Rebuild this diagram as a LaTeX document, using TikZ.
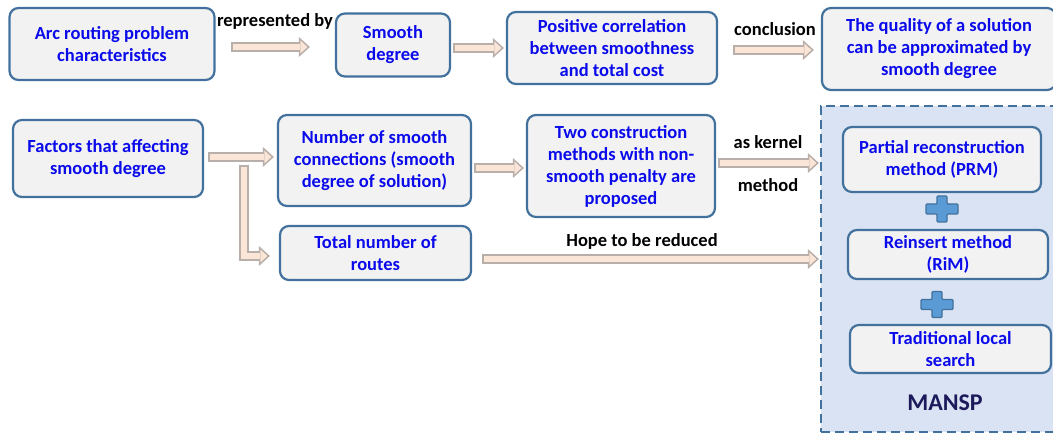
\documentclass[tikz,border=0pt]{standalone}
\usepackage{fontspec}
\setmainfont{Carlito}
\usetikzlibrary{arrows.meta}

\definecolor{boxline}{HTML}{41719C}
\definecolor{boxfill}{HTML}{F2F2F2}
\definecolor{txtblue}{RGB}{10,10,235}
\definecolor{grpfill}{HTML}{DAE3F3}
\definecolor{arrline}{RGB}{184,174,170}
\definecolor{arrfill}{HTML}{FBE5D6}
\definecolor{plusfill}{HTML}{5B9BD5}
\definecolor{mansp}{RGB}{28,26,90}

\begin{document}
\begin{tikzpicture}[x=1pt,y=-1pt,
  box/.style={draw=boxline, fill=boxfill, line width=2.2pt, rounded corners=9pt,
    text=txtblue, align=center, inner sep=0pt,
    font=\fontsize{18.5}{22}\selectfont\bfseries},
  lbl/.style={text=black, inner sep=0pt, font=\fontsize{18.5}{22}\selectfont\bfseries},
  blockarr/.style={draw=arrline, line width=9.5pt,
    -{Triangle[length=11pt,width=20pt,line width=0pt]},
    postaction={draw=arrfill, line width=5.5pt,
      -{Triangle[length=7pt,width=13pt,line width=0pt]},
      shorten >=2.5pt, shorten <=2pt}},
  plus/.style={fill=plusfill, draw=boxline, line width=1.2pt, rounded corners=1pt}]
\useasboundingbox (0,0) rectangle (1053,435);
\clip (0,0) rectangle (1053,435);

% group frame
\node [draw=boxline, fill=grpfill, line width=2.2pt, dash pattern=on 9pt off 5pt,
  minimum width=236, minimum height=326, inner sep=0pt] (grp) at (939,269) {};
\node [font=\fontsize{24}{28}\selectfont\bfseries, text=mansp] (name) at (945,403) {MANSP};

% top row
\node [box, minimum width=205, minimum height=72] (arc) at (112,44)
  {Arc routing problem\\characteristics};
\node [box, minimum width=114, minimum height=63] (smooth) at (393,45)
  {Smooth\\degree};
\node [box, minimum width=210, minimum height=72] (corr) at (612,48)
  {Positive correlation\\between smoothness\\and total cost};
\node [box, minimum width=234, minimum height=82] (quality) at (939,49)
  {The quality of a solution\\can be approximated by\\smooth degree};

% second part
\node [box, minimum width=190, minimum height=77] (factor) at (108,158.5)
  {Factors that affecting\\smooth degree};
\node [box, minimum width=193, minimum height=91] (conn) at (374.5,160.5)
  {Number of smooth\\connections (smooth\\degree of solution)};
\node [box, minimum width=191, minimum height=54] (routes) at (375.5,253)
  {Total number of\\routes};
\node [box, minimum width=188, minimum height=102] (constr) at (621,166)
  {Two construction\\methods with non-\\smooth penalty are\\proposed};

% inside MANSP
\node [box, minimum width=198, minimum height=65] (prm) at (942,159.5)
  {Partial reconstruction\\method (PRM)};
\node [box, minimum width=200, minimum height=49] (rim) at (948,254.5)
  {Reinsert method\\(RiM)};
\node [box, minimum width=201, minimum height=48] (tls) at (950.5,349)
  {Traditional local\\search};

\foreach \cx/\cy in {942/209, 937/304.5}
  \draw [plus, shift={(\cx,\cy)}] (-5,-13) -- (5,-13) -- (5,-5) -- (16,-5) -- (16,5)
    -- (5,5) -- (5,13) -- (-5,13) -- (-5,5) -- (-16,5) -- (-16,-5) -- (-5,-5) -- cycle;

% arrows
\draw [blockarr] ([shift={(15,3)}]arc.east) -- ([shift={(-25,2)}]smooth.west);
\draw [blockarr] ([shift={(2,3)}]smooth.east) -- ([shift={(-2,0)}]corr.west);
\draw [blockarr] ([shift={(15,2)}]corr.east) -- ([shift={(-7,1)}]quality.west);
\draw [blockarr] ([shift={(4,-1.5)}]factor.east) -- ([shift={(-3,-3.5)}]conn.west);
\draw [blockarr] ([shift={(40,7)}]factor.east) |- ([shift={(-9,3)}]routes.west);
\draw [blockarr] ([shift={(2,7.5)}]conn.east) -- ([shift={(-2,2)}]constr.west);
\draw [blockarr] ([shift={(2,-3)}]constr.east) -- ([shift={(-23,3.5)}]prm.west);
\draw [blockarr] ([shift={(10,6)}]routes.east) -- ([shift={(-28,4.5)}]rim.west);

% labels
\node [lbl] (rep) at (275,21) {represented by};
\node [lbl] (concl) at (775,29) {conclusion};
\node [lbl] (kern) at (768,142) {as kernel};
\node [lbl] (meth) at (768,185) {method};
\node [lbl] (hope) at (642,241) {Hope to be reduced};
\end{tikzpicture}
\end{document}
